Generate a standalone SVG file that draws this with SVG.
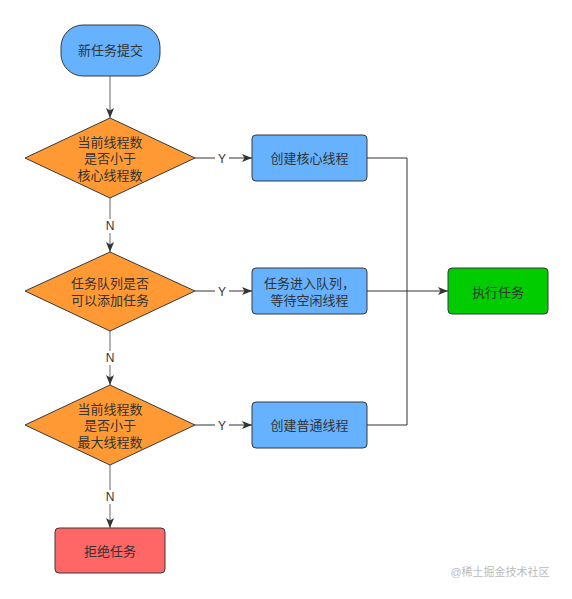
<svg xmlns="http://www.w3.org/2000/svg" width="572" height="599" viewBox="0 0 572 599">
<defs>
<style>
.t{font-family:"Liberation Sans","Noto Sans CJK SC",sans-serif;font-size:13px;fill:#333;text-anchor:middle;dominant-baseline:central}
.lbl{font-family:"Liberation Sans","Noto Sans CJK SC",sans-serif;font-size:12px;fill:#333;text-anchor:middle;dominant-baseline:central}
.nd{stroke:#36393d;stroke-width:1}
.ln{fill:none;stroke:#333;stroke-width:1}
.vl{fill:none;stroke:#666;stroke-width:1}
</style>
<marker id="ah" viewBox="0 0 10 10" refX="10" refY="5" markerWidth="10" markerHeight="10" markerUnits="userSpaceOnUse" orient="auto">
<path d="M0,1 L10,5 L0,9 L2.5,5 Z" fill="#333"/>
</marker>
</defs>
<rect width="572" height="599" fill="#fff"/>
<g id="connectors">
<line class="vl" x1="110" y1="76" x2="110" y2="118" marker-end="url(#ah)"/>
<line class="vl" x1="110" y1="198" x2="110" y2="252" marker-end="url(#ah)"/>
<line class="vl" x1="110" y1="331" x2="110" y2="385" marker-end="url(#ah)"/>
<line class="vl" x1="110" y1="465" x2="110" y2="528" marker-end="url(#ah)"/>
<line class="ln" x1="195" y1="158" x2="252" y2="158" marker-end="url(#ah)"/>
<line class="ln" x1="195" y1="291" x2="252" y2="291" marker-end="url(#ah)"/>
<line class="ln" x1="195" y1="425" x2="252" y2="425" marker-end="url(#ah)"/>
<polyline class="ln" points="367,158 407,158 407,425 367,425"/>
<line class="ln" x1="367" y1="291" x2="448" y2="291" marker-end="url(#ah)"/>
<rect x="215" y="152" width="14" height="13" fill="#fff"/>
<text class="lbl" x="222" y="159">Y</text>
<rect x="215" y="285" width="14" height="13" fill="#fff"/>
<text class="lbl" x="222" y="292">Y</text>
<rect x="215" y="419" width="14" height="13" fill="#fff"/>
<text class="lbl" x="222" y="426">Y</text>
<rect x="103" y="219" width="14" height="14" fill="#fff"/>
<text class="lbl" x="110" y="226">N</text>
<rect x="103" y="351" width="14" height="14" fill="#fff"/>
<text class="lbl" x="110" y="358">N</text>
<rect x="103" y="490" width="14" height="14" fill="#fff"/>
<text class="lbl" x="110" y="497">N</text>
</g>
<g id="start">
<rect class="nd" x="61" y="25" width="99" height="51" rx="22" fill="#66B2FF"/>
<text class="t" x="110.5" y="50.5">新任务提交</text>
</g>
<g id="d1">
<polygon class="nd" points="110,118 195,158 110,198 25,158" fill="#FF9933"/>
<text class="t" x="110" y="142">当前线程数</text>
<text class="t" x="110" y="158">是否小于</text>
<text class="t" x="110" y="175">核心线程数</text>
</g>
<g id="b1">
<rect class="nd" x="252" y="135" width="115" height="46" rx="4" fill="#66B2FF"/>
<text class="t" x="309.5" y="158">创建核心线程</text>
</g>
<g id="d2">
<polygon class="nd" points="110,252 195,291 110,331 25,291" fill="#FF9933"/>
<text class="t" x="110" y="283">任务队列是否</text>
<text class="t" x="110" y="300">可以添加任务</text>
</g>
<g id="b2">
<rect class="nd" x="252" y="268" width="115" height="46" rx="4" fill="#66B2FF"/>
<text class="t" x="309.5" y="283">任务进入队列，</text>
<text class="t" x="309.5" y="300">等待空闲线程</text>
</g>
<g id="d3">
<polygon class="nd" points="110,385 195,425 110,465 25,425" fill="#FF9933"/>
<text class="t" x="110" y="409">当前线程数</text>
<text class="t" x="110" y="425">是否小于</text>
<text class="t" x="110" y="442">最大线程数</text>
</g>
<g id="b3">
<rect class="nd" x="252" y="402" width="115" height="46" rx="4" fill="#66B2FF"/>
<text class="t" x="309.5" y="425">创建普通线程</text>
</g>
<g id="exec">
<rect class="nd" x="448" y="268" width="100" height="46" rx="4" fill="#00CC00"/>
<text class="t" x="498" y="292">执行任务</text>
</g>
<g id="reject">
<rect class="nd" x="55" y="528" width="110" height="45" rx="4" fill="#FF6666"/>
<text class="t" x="110" y="551">拒绝任务</text>
</g>
<text x="500" y="576" style="font-family:'Liberation Sans','Noto Sans CJK SC',sans-serif;font-size:11px;fill:#bbb;text-anchor:middle">@稀土掘金技术社区</text>
</svg>
